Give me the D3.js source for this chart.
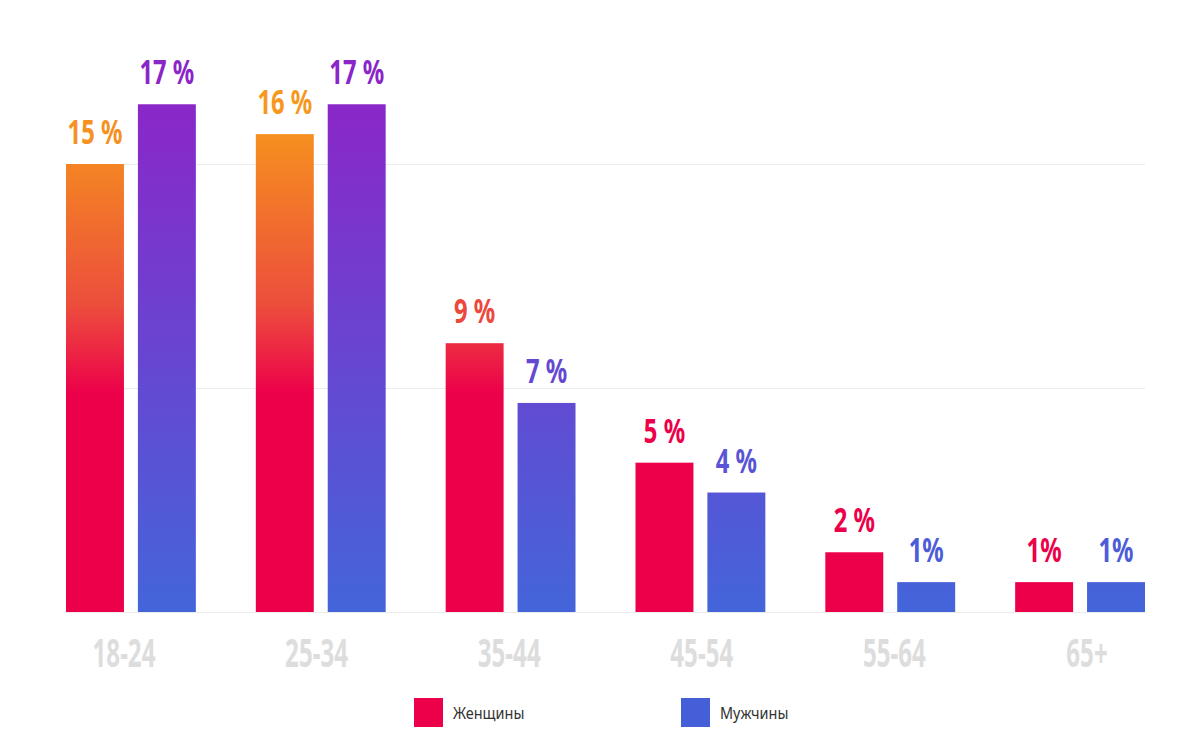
<!DOCTYPE html>
<html>
<head>
<meta charset="utf-8">
<script src="https://cdn.jsdelivr.net/npm/d3@7"></script>
<style>
  html, body { margin: 0; padding: 0; background: #fff; }
  svg { display: block; }
  .val, .cat { font-family: "Noto Sans", "Open Sans", sans-serif; font-weight: bold; }
  .leg { font-family: "Noto Sans", "Open Sans", sans-serif; }
</style>
</head>
<body>
<svg id="chart" width="1200" height="750"></svg>
<script>
const categories = ["18-24", "25-34", "35-44", "45-54", "55-64", "65+"];
const seriesNames = ["Женщины", "Мужчины"];
const women = [15, 16, 9, 5, 2, 1];
const men = [17, 17, 7, 4, 1, 1];
const gridTicks = [0, 7.5, 15];
// gradient stops: [value level, colour]
const womenStops = [[19.5, "#f9a81c"], [16.4, "#f7941d"], [10.3, "#ec4e3c"], [7.3, "#ec004a"], [0, "#ec004a"]];
const menStops = [[19.5, "#8b22c8"], [17, "#8a27c8"], [0, "#4465da"]];

const svg = d3.select("#chart");
const left = 66, right = 1145, baseline = 612, topRef = 164;

const x0 = d3.scaleBand().domain(categories).range([left, right]).paddingInner(0.316).paddingOuter(0);
const x1 = d3.scaleBand().domain(seriesNames).range([0, x0.bandwidth()]).paddingInner(0.194);
const y = d3.scaleLinear().domain([0, 15]).range([baseline, topRef]);
const labelX = d3.scalePoint().domain(categories).range([124, 1087]);

function colorScale(stops) {
  return d3.scaleLinear().domain(stops.map(s => s[0])).range(stops.map(s => s[1])).clamp(true);
}
const womenColor = colorScale(womenStops);
const menColor = colorScale(menStops);

const defs = svg.append("defs");
function makeGradient(id, stops) {
  const top = stops[0][0], bottom = stops[stops.length - 1][0];
  const g = defs.append("linearGradient").attr("id", id).attr("gradientUnits", "userSpaceOnUse")
    .attr("x1", 0).attr("x2", 0).attr("y1", y(top)).attr("y2", y(bottom));
  stops.forEach(s => g.append("stop")
    .attr("offset", (top - s[0]) / (top - bottom))
    .attr("stop-color", s[1]));
}
makeGradient("gW", womenStops);
makeGradient("gM", menStops);

// gridlines
svg.append("g").selectAll("line").data(gridTicks).join("line")
  .attr("x1", left).attr("x2", right)
  .attr("y1", d => y(d) + 0.5).attr("y2", d => y(d) + 0.5)
  .attr("stroke", "#ececec").attr("stroke-width", 1);

const series = [
  { name: seriesNames[0], values: women, fill: "url(#gW)", color: womenColor },
  { name: seriesNames[1], values: men, fill: "url(#gM)", color: menColor }
];

series.forEach(s => {
  svg.append("g").selectAll("rect").data(categories).join("rect")
    .attr("x", d => x0(d) + x1(s.name))
    .attr("width", x1.bandwidth())
    .attr("y", (d, i) => y(s.values[i]))
    .attr("height", (d, i) => y(0) - y(s.values[i]))
    .attr("fill", s.fill);
});

// value labels
series.forEach(s => {
  svg.append("g").selectAll("g").data(categories).join("g")
    .attr("transform", (d, i) => `translate(${x0(d) + x1(s.name) + x1.bandwidth() / 2},${y(s.values[i]) - 20})`)
    .append("text")
    .attr("class", "val")
    .attr("transform", "scale(0.7,1)")
    .attr("text-anchor", "middle")
    .attr("font-size", 34)
    .attr("fill", (d, i) => s.color(y.invert(y(s.values[i]) - 32)))
    .text((d, i) => s.values[i] + (s.values[i] === 1 ? "%" : " %"));
});

// category labels
svg.append("g").selectAll("g").data(categories).join("g")
  .attr("transform", d => `translate(${labelX(d)},667)`)
  .append("text")
  .attr("class", "cat")
  .attr("transform", "scale(0.62,1)")
  .attr("text-anchor", "middle")
  .attr("font-size", 39)
  .attr("fill", "#dddddd")
  .text(d => d);

// legend
const legColors = ["#ec004a", "#455fd8"];
const legX = d3.scaleOrdinal().domain(seriesNames).range([414, 681]);
const leg = svg.append("g").selectAll("g").data(seriesNames).join("g")
  .attr("transform", d => `translate(${legX(d)},698)`);
leg.append("rect").attr("width", 29).attr("height", 29).attr("fill", (d, i) => legColors[i]);
leg.append("g").attr("transform", "translate(39,21)")
  .append("text").attr("class", "leg").attr("transform", "scale(0.85,1)")
  .attr("font-size", 17).attr("fill", "#333").text(d => d);
</script>
</body>
</html>
